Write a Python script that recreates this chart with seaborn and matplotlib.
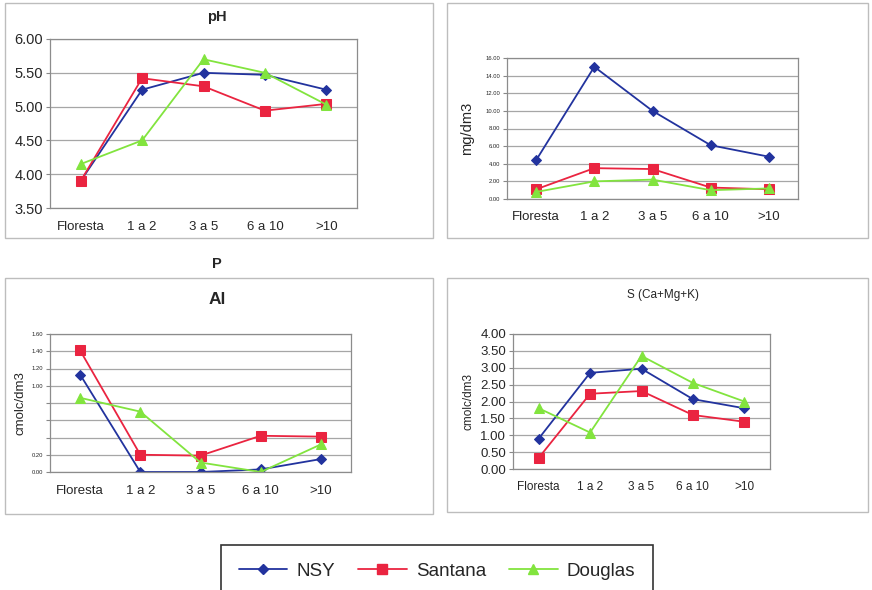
import numpy as np
import pandas as pd
import matplotlib
matplotlib.use('Agg')
import matplotlib.pyplot as plt
from matplotlib.patches import Rectangle
from matplotlib.lines import Line2D
from matplotlib.ticker import FuncFormatter, MultipleLocator, FixedLocator
import seaborn as sns

sns.set_style('white')
plt.rcParams['font.family'] = ['Liberation Sans', 'DejaVu Sans']

# categories (age classes) and series
categories = ['Floresta', '1 a 2', '3 a 5', '6 a 10', '>10']
series = ['NSY', 'Santana', 'Douglas']

ph_nsy = [3.90, 5.25, 5.50, 5.47, 5.25]
ph_santana = [3.90, 5.42, 5.30, 4.94, 5.04]
ph_douglas = [4.15, 4.50, 5.70, 5.50, 5.03]

p_nsy = [4.4, 15.0, 10.0, 6.1, 4.8]
p_santana = [1.1, 3.5, 3.4, 1.3, 1.1]
p_douglas = [0.8, 2.0, 2.2, 1.0, 1.2]

al_nsy = [1.13, 0.00, 0.00, 0.03, 0.15]
al_santana = [1.41, 0.20, 0.19, 0.42, 0.41]
al_douglas = [0.86, 0.70, 0.11, 0.00, 0.32]

s_nsy = [0.90, 2.85, 2.97, 2.07, 1.80]
s_santana = [0.33, 2.23, 2.31, 1.60, 1.40]
s_douglas = [1.80, 1.08, 3.35, 2.55, 2.00]

colors = {'NSY': '#22339e', 'Santana': '#ea2440', 'Douglas': '#82e43e'}
markers = {'NSY': 'D', 'Santana': 's', 'Douglas': '^'}
msizes = {'NSY': 5.5, 'Santana': 7, 'Douglas': 7}

W, H = 872, 590
fig = plt.figure(figsize=(W / 100, H / 100), dpi=100)


def frac(x0, y0, x1, y1):
    return [x0 / W, 1 - y1 / H, (x1 - x0) / W, (y1 - y0) / H]


def long_df(a, b, c):
    rows = []
    for name, vals in zip(series, [a, b, c]):
        for cat, v in zip(categories, vals):
            rows.append({'cat': cat, 'serie': name, 'value': v})
    return pd.DataFrame(rows)


def panel_box(x0, y0, x1, y1):
    fig.patches.append(Rectangle((x0 / W, 1 - y1 / H), (x1 - x0) / W, (y1 - y0) / H,
                                 transform=fig.transFigure, fill=False,
                                 edgecolor='#bdbdbd', linewidth=1.0))


def chart(box, a, b, c, ylim, step, ysize, xsize=9.5, fmt=None):
    ax = fig.add_axes(frac(*box))
    df = long_df(a, b, c)
    for name in series:
        sub = df[df['serie'] == name]
        sns.lineplot(data=sub, x='cat', y='value', ax=ax, color=colors[name],
                     marker=markers[name], markersize=msizes[name],
                     markeredgecolor=colors[name], linewidth=1.3, sort=False)
    ax.set_xlim(-0.5, 4.5)
    ax.set_ylim(*ylim)
    ax.yaxis.set_major_locator(MultipleLocator(step))
    ax.yaxis.grid(True, color='#a6a6a6', linewidth=0.9)
    ax.xaxis.grid(False)
    ax.set_xticks(range(5))
    ax.set_xticklabels(categories, fontsize=xsize)
    ax.xaxis.set_minor_locator(FixedLocator(np.arange(-0.5, 5, 1)))
    ax.tick_params(axis='x', which='major', length=0, pad=9)
    ax.tick_params(axis='x', which='minor', length=4, color='#888888', direction='out')
    ax.tick_params(axis='y', length=3, color='#888888', direction='out',
                   labelsize=ysize, left=True, pad=2)
    if fmt is None:
        ax.yaxis.set_major_formatter(FuncFormatter(lambda v, p: f'{v:.2f}'))
    else:
        ax.yaxis.set_major_formatter(FuncFormatter(fmt))
    for sp in ax.spines.values():
        sp.set_color('#8c8c8c')
        sp.set_linewidth(0.9)
    ax.set_xlabel('')
    ax.set_ylabel('')
    if ax.get_legend() is not None:
        ax.get_legend().remove()
    return ax


# boxes around each chart
panel_box(5, 3, 433, 238)
panel_box(447, 3, 868, 238)
panel_box(5, 278, 433, 514)
panel_box(447, 278, 868, 512)

# pH
ax1 = chart((50, 39, 357, 208), ph_nsy, ph_santana, ph_douglas, (3.5, 6.0), 0.5, 10.5)
fig.text(217 / W, 1 - 17 / H, 'pH', ha='center', va='center', fontsize=10.5, fontweight='bold')

# P
ax2 = chart((507, 58, 798, 199), p_nsy, p_santana, p_douglas, (0, 16), 2, 4.2, xsize=9.5)
ax2.set_ylabel('mg/dm3', fontsize=10.5, labelpad=8)
fig.text(217 / W, 1 - 264 / H, 'P', ha='center', va='center', fontsize=10.5, fontweight='bold')

# Al
def al_fmt(v, p):
    if 0.3 < v < 0.9:
        return ''
    return f'{v:.2f}'

ax3 = chart((50, 334, 351, 472), al_nsy, al_santana, al_douglas, (0, 1.6), 0.2, 4.2, fmt=al_fmt)
ax3.set_ylabel('cmolc/dm3', fontsize=9.5, labelpad=4)
fig.text(217 / W, 1 - 300 / H, 'Al', ha='center', va='center', fontsize=12.5, fontweight='bold')

# S
ax4 = chart((513, 334, 770, 469), s_nsy, s_santana, s_douglas, (0, 4.0), 0.5, 9.5, xsize=8.5)
ax4.set_ylabel('cmolc/dm3', fontsize=8.5, labelpad=4)
fig.text(663 / W, 1 - 295 / H, 'S (Ca+Mg+K)', ha='center', va='center', fontsize=8.5)

# legend (its lower edge runs off the figure, as in the source)
handles = [Line2D([0], [0], color=colors[n], marker=markers[n], markersize=msizes[n],
                  linewidth=1.3) for n in series]
leg = fig.legend(handles, series, loc='upper center', bbox_to_anchor=(437 / W, 1 - 545 / H),
                 ncol=3, fontsize=13.5, frameon=True, fancybox=False, handlelength=2.6,
                 columnspacing=1.2, borderpad=0.95, handletextpad=0.5, borderaxespad=0)
leg.get_frame().set_edgecolor('black')
leg.get_frame().set_linewidth(1.2)

fig.savefig('out.png', dpi=100)
